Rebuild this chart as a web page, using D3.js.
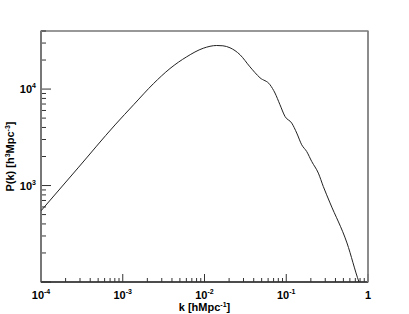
<!DOCTYPE html>
<html>
<head>
<meta charset="utf-8">
<script src="https://cdn.jsdelivr.net/npm/d3@7"></script>
<style>
  body { margin: 0; background: #fff; }
  text { font-family: "Liberation Sans", Arial, sans-serif; font-weight: bold; fill: #000; }
</style>
</head>
<body>
<div id="chart"></div>
<script>
// wavenumber k [h/Mpc] and power P(k) [h^-3 Mpc^3]
var kValues = [1e-4, 2.84e-4, 8.04e-4, 1.374e-3, 2.366e-3, 3.78e-3, 6.05e-3, 9.66e-3, 0.0141, 0.0168,
               0.0205, 0.0272, 0.036, 0.0477, 0.0633, 0.0728, 0.0838, 0.0966, 0.1167, 0.1344,
               0.1546, 0.178, 0.205, 0.247, 0.284, 0.343, 0.553, 0.776, 0.845];
var pValues = [547, 1524, 4250, 6950, 11350, 16320, 21600, 26500, 28300, 28100,
               26800, 22700, 17000, 13100, 11090, 9100, 6880, 5200, 4440, 3500,
               2645, 2250, 1775, 1345, 977, 661, 254, 100, 83];

var xTicks = [1e-4, 1e-3, 1e-2, 1e-1, 1];
var xTickExp = ['-4', '-3', '-2', '-1', null];
var yTicks = [1e3, 1e4];
var yTickExp = ['3', '4'];

var data = kValues.map((k, i) => ({ k: k, p: pValues[i] }));

var W = 409, H = 314;
var margin = {top: 31, right: 41, bottom: 32, left: 41},
    width = W - margin.left - margin.right,
    height = H - margin.top - margin.bottom;

var x = d3.scaleLog().domain([1e-4, 1]).range([0, width]);
var y = d3.scaleLog().domain([100, 40000]).range([height, 0]);

var svg = d3.select('#chart').append('svg')
    .attr('width', W)
    .attr('height', H);

var chart = svg.append('g')
    .attr('transform', 'translate(' + margin.left + ',' + margin.top + ')');

svg.append('defs').append('clipPath').attr('id', 'clip')
  .append('rect').attr('width', width).attr('height', height);

// minor / major ticks, drawn inward like ROOT
function minorTicks(scale) {
    var d = scale.domain(), out = [];
    for (var e = Math.floor(Math.log10(d[0])); e <= Math.ceil(Math.log10(d[1])); e++) {
        for (var m = 1; m < 10; m++) {
            var v = m * Math.pow(10, e);
            if (v >= d[0] * 0.999 && v <= d[1] * 1.001) out.push({ v: v, major: m == 1 });
        }
    }
    return out;
}

chart.selectAll('.xtick')
    .data(minorTicks(x))
  .enter().append('line')
    .attr('class', 'xtick')
    .attr('x1', (d) => x(d.v)).attr('x2', (d) => x(d.v))
    .attr('y1', height).attr('y2', (d) => height - (d.major ? 8 : 4))
    .attr('stroke', '#333').attr('stroke-width', 1);

chart.selectAll('.ytick')
    .data(minorTicks(y))
  .enter().append('line')
    .attr('class', 'ytick')
    .attr('y1', (d) => y(d.v)).attr('y2', (d) => y(d.v))
    .attr('x1', 0).attr('x2', (d) => d.major ? 10 : 5)
    .attr('stroke', '#333').attr('stroke-width', 1);

// frame
chart.append('rect')
    .attr('width', width).attr('height', height)
    .attr('fill', 'none').attr('stroke', '#333').attr('stroke-width', 1);
chart.append('line').attr('x1', 0).attr('x2', 0).attr('y1', 0).attr('y2', height)
    .attr('stroke', '#777').attr('stroke-width', 2);
chart.append('line').attr('x1', 0).attr('x2', width).attr('y1', height).attr('y2', height)
    .attr('stroke', '#333').attr('stroke-width', 1.5);
chart.append('line').attr('x1', width).attr('x2', width).attr('y1', 0).attr('y2', height)
    .attr('stroke', '#888').attr('stroke-width', 1.5);

// tick labels
var xl = chart.selectAll('.xlabel')
    .data(xTicks)
  .enter().append('text')
    .attr('class', 'xlabel')
    .attr('x', (d) => x(d))
    .attr('y', height + 17)
    .attr('text-anchor', 'middle')
    .style('font-size', '11px');
xl.append('tspan').text((d, i) => xTickExp[i] ? '10' : '1');
xl.append('tspan')
    .attr('dy', -5).style('font-size', '7px')
    .text((d, i) => xTickExp[i] || '');

var yl = chart.selectAll('.ylabel')
    .data(yTicks)
  .enter().append('text')
    .attr('class', 'ylabel')
    .attr('x', -5)
    .attr('y', (d) => y(d) + 4)
    .attr('text-anchor', 'end')
    .style('font-size', '11px');
yl.append('tspan').text('10');
yl.append('tspan')
    .attr('dy', -5).style('font-size', '7px')
    .text((d, i) => yTickExp[i]);

// axis titles
var xt = chart.append('text')
    .attr('x', width / 2)
    .attr('y', height + 29)
    .attr('text-anchor', 'middle')
    .style('font-size', '11px');
xt.append('tspan').text('k [hMpc');
xt.append('tspan').attr('dy', -4).style('font-size', '7px').text('-1');
xt.append('tspan').attr('dy', 4).text(']');

var yt = chart.append('text')
    .attr('transform', 'translate(' + (-27) + ',' + (height / 2) + ') rotate(-90)')
    .attr('text-anchor', 'middle')
    .style('font-size', '11px');
yt.append('tspan').text('P(k) [h');
yt.append('tspan').attr('dy', -4).style('font-size', '7px').text('3');
yt.append('tspan').attr('dy', 4).text('Mpc');
yt.append('tspan').attr('dy', -4).style('font-size', '7px').text('-3');
yt.append('tspan').attr('dy', 4).text(']');

var valueLine = d3.line()
    .curve(d3.curveMonotoneX)
    .x((d) => x(d.k))
    .y((d) => y(d.p));

chart.append('path')
    .datum(data)
    .attr('clip-path', 'url(#clip)')
    .attr('d', valueLine)
    .attr('fill', 'none')
    .attr('stroke', '#222')
    .attr('stroke-width', 1);
</script>
</body>
</html>
